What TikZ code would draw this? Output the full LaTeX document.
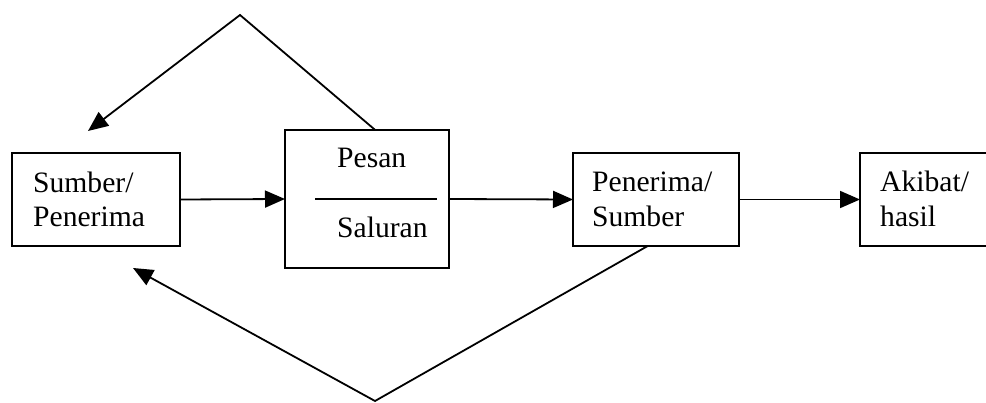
\documentclass[tikz,border=0pt]{standalone}
\usepackage{fontspec}
\setmainfont{Liberation Serif}
\usetikzlibrary{arrows.meta,calc}
\begin{document}
\begin{tikzpicture}[x=1pt,y=-1pt,
  box/.style={draw=black,line width=1.8pt,minimum width=#1,inner sep=0pt,outer sep=0pt},
  lbl/.style={anchor=base west,inner sep=0pt,font=\fontsize{29.6}{34}\selectfont},
  arr/.style={line width=1.8pt,-{Triangle[length=20pt,width=17pt]}},
  ln/.style={line width=1.8pt}]
\clip (0,0) rectangle (986,403);
% boxes
\node[box=168pt,minimum height=93pt] (b1) at (96,199.5) {};
\node[box=164pt,minimum height=138pt] (b2) at (367,199) {};
\node[box=166pt,minimum height=93pt] (b3) at (656,199.5) {};
\node[box=160pt,minimum height=93pt] (b4) at (940,199.5) {};
% texts
\node[lbl] (t1a) at (33,193) {Sumber/};
\node[lbl] (t1b) at (33,227) {Penerima};
\node[lbl] (t2a) at (337,168) {Pesan};
\node[lbl] (t2b) at (337,238) {Saluran};
\node[lbl] (t3a) at (592,192) {Penerima/};
\node[lbl] (t3b) at (592,227) {Sumber};
\node[lbl] (t4a) at (880,192) {Akibat/};
\node[lbl] (t4b) at (880,227) {hasil};
% divider in box 2
\draw[ln] ($(b2.west)+(30,0)$) -- ($(b2.east)+(-12,0)$);
% main flow
\draw[arr] (b1.east) -- (b2.west);
\draw[arr] (b2.east) -- (b3.west);
\draw[arr] (b3.east) -- (b4.west);
% feedback loops
\coordinate (topapex) at (240,15);
\coordinate (toptip) at (88,131);
\coordinate (botapex) at (375,401);
\coordinate (bottip) at (133,268);
\draw[arr] ($(b2.north west)!0.55!(b2.north east)$) -- (topapex) -- (toptip);
\draw[arr] ($(b3.south west)!0.45!(b3.south east)$) -- (botapex) -- (bottip);
\end{tikzpicture}
\end{document}
